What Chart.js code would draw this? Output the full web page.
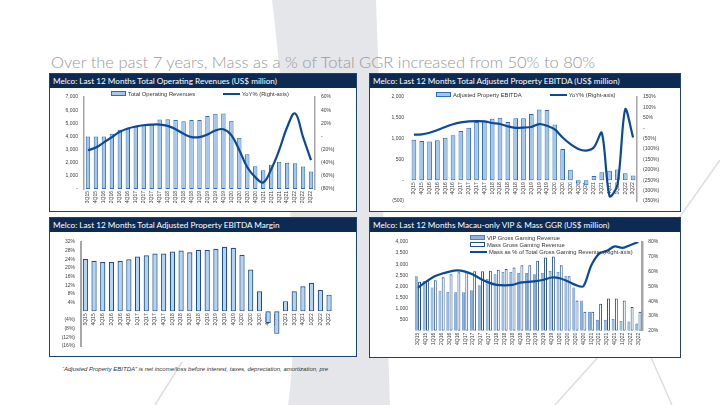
<!DOCTYPE html>
<html>
<head>
<meta charset="utf-8">
<script src="https://cdn.jsdelivr.net/npm/chart.js@4.4.0/dist/chart.umd.min.js"></script>
<style>
  html, body { margin: 0; padding: 0; }
  body { width: 720px; height: 405px; position: relative; overflow: hidden; background: #fff;
         font-family: 'Liberation Sans', Arial, sans-serif; }
  #bg { position: absolute; left: 0; top: 0; }
  .title { position: absolute; left: 51px; top: 52px; font-family: Lato, 'Open Sans', sans-serif;
           font-size: 16.5px; font-weight: 300; color: #999; white-space: nowrap; }
  .panel { position: absolute; box-sizing: border-box; border: 1.5px solid #1d4274; background: #fff; }
  .hdr { height: 14px; background: #0d2b52; color: #fff; font-family: Lato, sans-serif; font-size: 8.2px;
         line-height: 14px; padding-left: 3px; white-space: nowrap; overflow: hidden; }
  canvas { position: absolute; }
  .legend { position: absolute; display: flex; font-size: 5.8px; color: #333; white-space: nowrap; }
  .legend.col { flex-direction: column; }
  .item { display: flex; align-items: center; height: 7px; }
  .sw { display: inline-block; box-sizing: border-box; margin-right: 2px; }
  .note { position: absolute; left: 62px; top: 366px; font-size: 6px; font-style: italic; color: #333; white-space: nowrap; }
</style>
</head>
<body>
<svg id="bg" width="720" height="405">
  <path d="M272,0 L376,0 L390,405 L288,405 C300,330 290,150 272,0 Z" fill="#e4e6e9"/>
  <line x1="720" y1="160" x2="655" y2="252" stroke="#dedede" stroke-width="1.5"/>
  <line x1="650" y1="355" x2="672" y2="405" stroke="#dedede" stroke-width="1.5"/>
  <line x1="600" y1="355" x2="555" y2="405" stroke="#dedede" stroke-width="1.5"/>
  <line x1="182" y1="362" x2="155" y2="405" stroke="#dedede" stroke-width="1.5"/>
</svg>

<div class="title">Over the past 7 years, Mass as a % of Total GGR increased from 50% to 80%</div>

<div class="panel" style="left:49px;top:73px;width:308px;height:139px">
  <div class="hdr">Melco: Last 12 Months Total Operating Revenues (US$ million)</div>
</div>
<div class="panel" style="left:369px;top:73px;width:312px;height:139px">
  <div class="hdr">Melco: Last 12 Months Total Adjusted Property EBITDA (US$ million)</div>
</div>
<div class="panel" style="left:49px;top:217px;width:308px;height:140px">
  <div class="hdr">Melco: Last 12 Months Total Adjusted Property EBITDA Margin</div>
</div>
<div class="panel" style="left:369px;top:217px;width:312px;height:141px">
  <div class="hdr">Melco: Last 12 Months Macau-only VIP &amp; Mass GGR (US$ million)</div>
</div>

<canvas id="revenueChart" width="304" height="122" style="left:51px;top:88px"></canvas>
<canvas id="ebitdaChart" width="308" height="122" style="left:371px;top:88px"></canvas>
<canvas id="marginChart" width="304" height="122" style="left:51px;top:233px"></canvas>
<canvas id="ggrChart" width="308" height="123" style="left:371px;top:233px"></canvas>

<div class="legend" id="revenueLegend" style="left:111px;top:90px;gap:28px"></div>
<div class="legend" id="ebitdaLegend" style="left:436px;top:91px;gap:28px"></div>
<div class="legend col" id="ggrLegend" style="left:470px;top:234px"></div>

<div class="note">&ldquo;Adjusted Property EBITDA&rdquo; is net income/loss before interest, taxes, depreciation, amortization, pre</div>

<script>
// ---------------- data ----------------
var quarters = ['3Q15', '4Q15', '1Q16', '2Q16', '3Q16', '4Q16', '1Q17', '2Q17', '3Q17', '4Q17',
    '1Q18', '2Q18', '3Q18', '4Q18', '1Q19', '2Q19', '3Q19', '4Q19', '1Q20', '2Q20',
    '3Q20', '4Q20', '1Q21', '2Q21', '3Q21', '4Q21', '1Q22', '2Q22', '3Q22'];

// total operating revenues, US$ m, and YoY %
var revenues = [4000, 4000, 4000, 4200, 4500, 4600, 4800, 4900, 4950, 5280,
    5300, 5250, 5150, 5250, 5250, 5550, 5720, 5750, 5200, 3900,
    2650, 1730, 1430, 1850, 2070, 2000, 1950, 1720, 1330];
var revenueYoY = [-21, -17, -9, -1, 7, 12, 15, 17, 18, 18,
    16, 11, 4, -1, -1, 3, 9, 11, 2, -21,
    -47, -62, -70, -50, -21, 14, 35, -1, -36];

// adjusted property EBITDA, US$ m, and YoY %
var ebitda = [970, 940, 930, 960, 1020, 1080, 1180, 1260, 1400, 1420,
    1480, 1500, 1400, 1490, 1490, 1590, 1700, 1690, 1340, 750,
    250, -80, -120, 100, 190, 230, 260, 170, 110];
var ebitdaYoY = [-31, -30, -22, -9, 6, 19, 28, 33, 34, 33,
    25, 20, 9, 2, 3, 6, 20, 12, -6, -45,
    -77, -100, -108, -92, -22, -327, -272, 91, -45];

// adjusted property EBITDA margin, %
var ebitdaMargin = [24.1, 23.3, 22.8, 22.8, 23.3, 24.0, 25.3, 25.9, 26.7, 26.7,
    27.6, 28.1, 27.3, 28.4, 28.3, 28.9, 29.8, 29.3, 26.1, 19.3,
    9.3, -5.5, -10.4, 4.7, 9.3, 11.6, 13.2, 9.9, 7.7];

// Macau-only GGR, US$ m, and mass share %
var vipGGR = [2455, 2240, 1950, 1800, 1750, 1730, 1730, 1820, 2050, 2330,
    2550, 2650, 2650, 2600, 2600, 2550, 2600, 2700, 2650, 2480,
    1950, 1360, 850, 490, 490, 530, 440, 415, 320];
var massGGR = [2210, 2240, 2280, 2410, 2550, 2640, 2650, 2680, 2680, 2700,
    2750, 2780, 2850, 2950, 2950, 3150, 3300, 3350, 2950, 2450,
    1360, 850, 850, 1215, 1450, 1450, 1360, 1070, 850];
var massShare = [49, 53, 56.5, 58.5, 60, 60.8, 60, 58, 55, 52.5,
    51, 50.7, 51, 52.5, 53, 53.5, 54.5, 56, 55.5, 53.5,
    51, 50, 64, 72, 74, 77, 76, 78, 80];

// ---------------- helpers ----------------
var tickFont = { family: "'Liberation Sans', Arial, sans-serif", size: 5 };
var tickColor = '#404040';
var lineBlue = '#0b4a96';
var axisGrey = '#a6a6a6';

function fixWidth(w) { return function (scale) { scale.width = w; }; }
function fixHeight(h) { return function (scale) { scale.height = h; }; }

function fmtNum(v) {
    if (v === 0) return '-';
    var s = Math.abs(v).toLocaleString('en-US');
    return v < 0 ? '(' + s + ')' : s;
}
function fmtPct(v) {
    if (v === 0) return '-';
    return v < 0 ? '(' + Math.abs(v) + '%)' : v + '%';
}

function xAxis(position, height) {
    var axis = {
        type: 'category',
        position: position,
        grid: { display: false, drawTicks: false },
        border: { display: false },
        ticks: { font: tickFont, color: tickColor, minRotation: 90, maxRotation: 90, autoSkip: false, padding: 2 }
    };
    if (height !== undefined) axis.afterFit = fixHeight(height);
    return axis;
}

function yAxis(side, min, max, step, width, fmt, border) {
    return {
        position: side,
        min: min, max: max,
        grid: { display: false, drawTicks: false },
        border: border ? { display: true, color: axisGrey, width: border } : { display: false },
        ticks: { font: tickFont, color: tickColor, stepSize: step, padding: 6, autoSkip: false, callback: fmt },
        afterFit: fixWidth(width)
    };
}

function baseOptions(padding, scales) {
    return {
        responsive: false,
        animation: false,
        layout: { padding: padding },
        plugins: { legend: { display: false }, tooltip: { enabled: false } },
        scales: scales
    };
}

function htmlLegend(chart, id) {
    var box = document.getElementById(id);
    chart.data.datasets.forEach(function (ds) {
        var item = document.createElement('div');
        item.className = 'item';
        var sw = document.createElement('span');
        sw.className = 'sw';
        if (ds.type === 'line') {
            sw.style.width = '17px';
            sw.style.height = '0';
            sw.style.borderTop = '2px solid ' + ds.borderColor;
        } else {
            sw.style.width = '15px';
            sw.style.height = '5px';
            sw.style.background = ds.backgroundColor;
            sw.style.border = '1px solid ' + ds.borderColor;
        }
        item.appendChild(sw);
        item.appendChild(document.createTextNode(ds.label));
        box.appendChild(item);
    });
}

// ---------------- total operating revenues ----------------
var revenueChart = new Chart(document.getElementById('revenueChart'), {
    type: 'bar',
    data: {
        labels: quarters,
        datasets: [
            {
                label: 'Total Operating Revenues',
                data: revenues,
                backgroundColor: '#a4c6ec',
                borderColor: '#2e6db4',
                borderWidth: 1,
                borderSkipped: false,
                barPercentage: 0.55,
                categoryPercentage: 1,
                yAxisID: 'y',
                order: 1
            },
            {
                type: 'line',
                label: 'YoY% (Right-axis)',
                data: revenueYoY,
                borderColor: lineBlue,
                borderWidth: 2.2,
                pointRadius: 0,
                tension: 0.4,
                yAxisID: 'y1',
                order: 0
            }
        ]
    },
    options: baseOptions({ top: 8, left: 0, right: 0, bottom: 0 }, {
        x: xAxis('bottom', 21),
        y: yAxis('left', 0, 7000, 1000, 33, fmtNum, 1.5),
        y1: yAxis('right', -80, 60, 20, 40, fmtPct, 1.5)
    })
});
htmlLegend(revenueChart, 'revenueLegend');

// ---------------- adjusted property EBITDA ----------------
var ebitdaChart = new Chart(document.getElementById('ebitdaChart'), {
    type: 'bar',
    data: {
        labels: quarters,
        datasets: [
            {
                label: 'Adjusted Property EBITDA',
                data: ebitda,
                backgroundColor: '#a4c6ec',
                borderColor: '#2e6db4',
                borderWidth: 1,
                borderSkipped: false,
                barPercentage: 0.6,
                categoryPercentage: 1,
                yAxisID: 'y',
                order: 1
            },
            {
                type: 'line',
                label: 'YoY% (Right-axis)',
                data: ebitdaYoY,
                borderColor: lineBlue,
                borderWidth: 2.2,
                pointRadius: 0,
                tension: 0.3,
                yAxisID: 'y1',
                order: 0
            }
        ]
    },
    options: baseOptions({ top: 8.7, left: 0, right: 0, bottom: 6.7 }, {
        x: xAxis({ y: 0 }),
        y: yAxis('left', -500, 2000, 500, 39, fmtNum, 0),
        y1: yAxis('right', -350, 150, 50, 42, fmtPct, 1.5)
    })
});
htmlLegend(ebitdaChart, 'ebitdaLegend');

// ---------------- EBITDA margin ----------------
var marginChart = new Chart(document.getElementById('marginChart'), {
    type: 'bar',
    data: {
        labels: quarters,
        datasets: [
            {
                label: 'Adjusted Property EBITDA Margin',
                data: ebitdaMargin,
                backgroundColor: '#b3d3f2',
                borderColor: '#1f4e8c',
                borderWidth: 1.2,
                borderSkipped: false,
                barPercentage: 0.6,
                categoryPercentage: 1
            }
        ]
    },
    options: baseOptions({ top: 6, left: 0, right: 21.6, bottom: 9 }, {
        x: xAxis({ y: 0 }),
        y: yAxis('left', -16, 32, 4, 30, function (v) { return v === 0 ? '' : fmtPct(v); }, 2)
    })
});

// ---------------- Macau VIP & mass GGR ----------------
var ggrChart = new Chart(document.getElementById('ggrChart'), {
    type: 'bar',
    data: {
        labels: quarters,
        datasets: [
            {
                label: 'VIP Gross Gaming Revenue',
                data: vipGGR,
                backgroundColor: '#8db3e2',
                borderColor: '#4f81bd',
                borderWidth: 0.8,
                borderSkipped: false,
                barPercentage: 0.9,
                categoryPercentage: 0.82,
                yAxisID: 'y',
                order: 1
            },
            {
                label: 'Mass Gross Gaming Revenue',
                data: massGGR,
                backgroundColor: '#ffffff',
                borderColor: '#1f4e8c',
                borderWidth: 1,
                borderSkipped: false,
                barPercentage: 0.9,
                categoryPercentage: 0.82,
                yAxisID: 'y',
                order: 1
            },
            {
                type: 'line',
                label: 'Mass as % of Total Gross Gaming Revenue (Right-axis)',
                data: massShare,
                borderColor: lineBlue,
                borderWidth: 2.2,
                pointRadius: 0,
                tension: 0.3,
                yAxisID: 'y1',
                order: 0
            }
        ]
    },
    options: baseOptions({ top: 6, left: 0, right: 0, bottom: 0 }, {
        x: xAxis('bottom', 25.3),
        y: yAxis('left', 0, 4000, 500, 43, function (v) { return v === 0 ? '' : fmtNum(v); }, 0),
        y1: yAxis('right', 20, 80, 10, 36.7, fmtPct, 2.5)
    })
});
htmlLegend(ggrChart, 'ggrLegend');
</script>
</body>
</html>
